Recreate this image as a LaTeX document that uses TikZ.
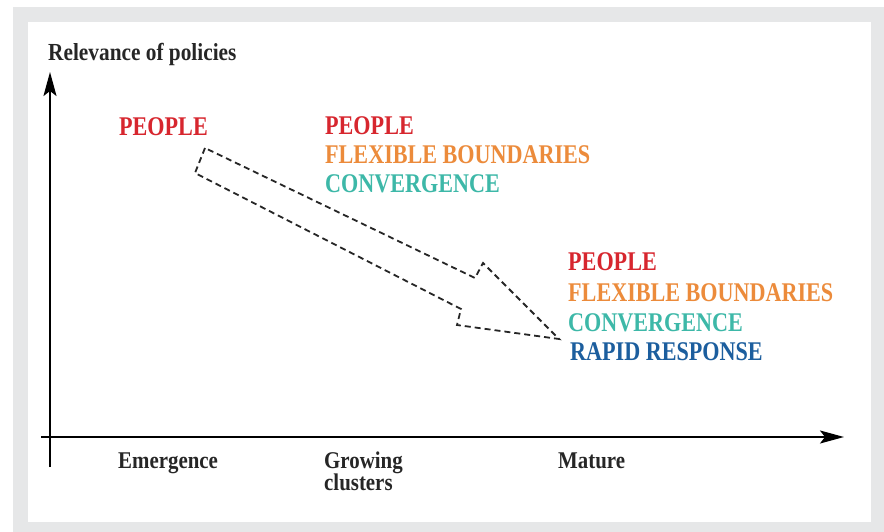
\documentclass[tikz,border=0pt]{standalone}
\usepackage{fontspec}
\usepackage{tikz}
\usetikzlibrary{arrows.meta}
\newfontfamily\stagefont[FakeStretch=0.82]{Liberation Serif}
\newfontfamily\axisfont[FakeStretch=0.87]{Liberation Serif}
\definecolor{panelgray}{HTML}{E6E7E8}
\definecolor{polred}{HTML}{D7262E}
\definecolor{polorange}{HTML}{EC8B3B}
\definecolor{polteal}{HTML}{3DB8A8}
\definecolor{polblue}{HTML}{1C5E9E}
\begin{document}
\begin{tikzpicture}[x=1pt, y=-1pt,
      every node/.append style={inner sep=0pt, anchor=base west},
      axis/.style={line width=2pt, -{Stealth[length=24pt,width=13pt,inset=5pt]}}]
    \tikzstyle{policy} = [font=\stagefont\bfseries\fontsize{27}{30}\selectfont]
    \tikzstyle{label} = [font=\axisfont\bfseries\fontsize{24}{26}\selectfont, color=black!85]
    \useasboundingbox[fill=white] (0,0) rectangle (884,532);
    \fill[panelgray] (13,7) rectangle (884,532);
    \fill[white] (28,22) rectangle (871,522);
    % axes
    \draw[axis] (50,467) -- (50,72);
    \draw[axis] (41,437) -- (844,437);
    \node (relevance) [label, font=\axisfont\bfseries\fontsize{24.5}{26}\selectfont] at (48,61) {Relevance of policies};
    \node (emergence) [label] at (118,468) {Emergence};
    \node (growing) [label] at (324,468) {Growing};
    \node (clusters) [label] at (324,490) {clusters};
    \node (mature) [label] at (558,468) {Mature};
    % stages
    \node (people1) [policy, polred] at (119,136) {PEOPLE};
    \node (people2) [policy, polred] at (325,135) {PEOPLE};
    \node (flexible2) [policy, polorange] at (325,164) {FLEXIBLE BOUNDARIES};
    \node (convergence2) [policy, polteal] at (325,193) {CONVERGENCE};
    \node (people3) [policy, polred] at (568,270) {PEOPLE};
    \node (flexible3) [policy, polorange] at (568,301) {FLEXIBLE BOUNDARIES};
    \node (convergence3) [policy, polteal] at (568,331) {CONVERGENCE};
    \node (rapid3) [policy, polblue] at (570,360) {RAPID RESPONSE};
    % big arrow
    \draw[line width=1.8pt, dash pattern=on 6pt off 4pt, black!85]
      (205,148) -- (195,173) -- (461,309) -- (457,325) -- (559,339)
      -- (483,263) -- (475,278) -- cycle;
\end{tikzpicture}
\end{document}
